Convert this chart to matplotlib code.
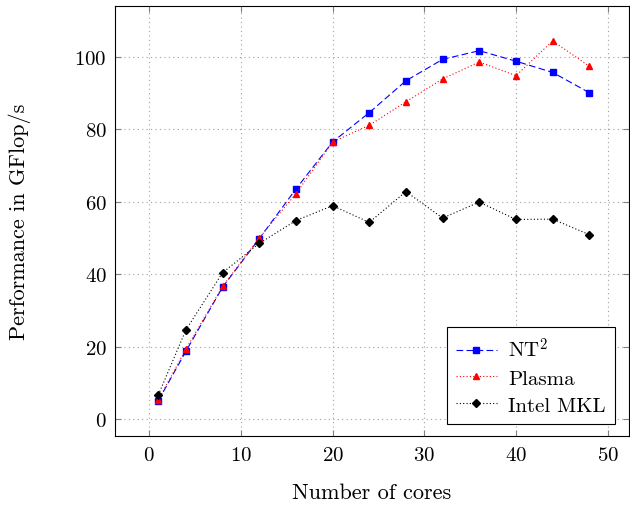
import matplotlib
matplotlib.use('Agg')
import matplotlib.pyplot as plt

plt.rcParams['font.family'] = ['cmr10', 'DejaVu Serif']
plt.rcParams['mathtext.fontset'] = 'cm'
plt.rcParams['axes.formatter.use_mathtext'] = True

cores = [1, 4, 8, 12, 16, 20, 24, 28, 32, 36, 40, 44, 48]
nt2 = [5.1, 18.7, 36.4, 49.8, 63.5, 76.5, 84.6, 93.4, 99.3, 101.7, 98.8, 95.7, 90.1]
plasma = [5.3, 19.3, 36.6, 50.0, 62.2, 76.5, 81.1, 87.6, 93.9, 98.6, 94.8, 104.4, 97.4]
mkl = [6.7, 24.6, 40.4, 48.5, 54.8, 58.9, 54.3, 62.8, 55.5, 59.9, 55.1, 55.2, 50.9]

fig = plt.figure(figsize=(6.3, 5.1), dpi=100)
ax = fig.add_axes([0.183, 0.143, 0.815, 0.843])

ax.plot(cores, nt2, color='blue', ls=(0, (6, 3)), lw=0.8, marker='s', ms=4.2,
        label=r'NT$^2$')
ax.plot(cores, plasma, color='red', ls=(0, (1, 2)), lw=0.8, marker='^', ms=5,
        label='Plasma')
ax.plot(cores, mkl, color='black', ls=(0, (1, 2)), lw=0.8, marker='D', ms=3.6,
        label='Intel MKL')

ax.set_xlim(-3.7, 52.3)
ax.set_ylim(-4.7, 114)
ax.set_xticks([0, 10, 20, 30, 40, 50])
ax.set_yticks([0, 20, 40, 60, 80, 100])
ax.grid(True, color='#a0a0a0', ls=(0, (1, 3)), lw=0.8)
ax.tick_params(direction='in', top=True, right=True, labelsize=15, length=4,
               color='#808080')
ax.tick_params(axis='x', pad=7)
ax.tick_params(axis='y', pad=6)
for s in ax.spines.values():
    s.set_linewidth(0.8)

ax.set_xlabel('Number of cores', fontsize=16)
ax.set_ylabel('Performance in GFlop/s', fontsize=16)
ax.xaxis.set_label_coords(0.5, -0.108)
ax.yaxis.set_label_coords(-0.165, 0.5)

leg = ax.legend(loc='lower right', fontsize=15, fancybox=False, edgecolor='black',
                framealpha=1, handlelength=1.95, borderpad=0.45, labelspacing=0.4,
                handletextpad=0.55, borderaxespad=0, bbox_to_anchor=(0.973, 0.028))
leg.get_frame().set_linewidth(0.8)

fig.savefig('out.png', dpi=100)
